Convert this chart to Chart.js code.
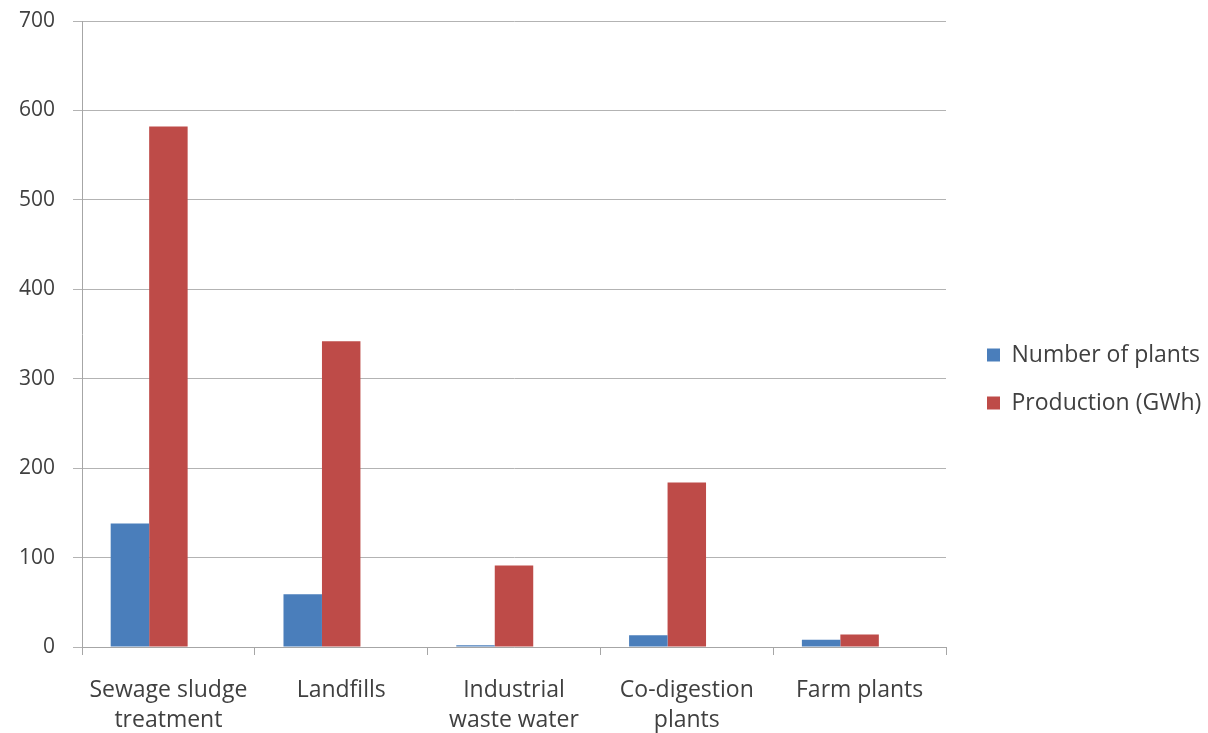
<!DOCTYPE html>
<html>
<head>
<meta charset="utf-8">
<script src="https://cdn.jsdelivr.net/npm/chart.js@4"></script>
<style>
  html, body { margin: 0; padding: 0; background: #fff; }
  #wrap { width: 1208px; height: 733px; }
</style>
</head>
<body>
<div id="wrap"><canvas id="chart"></canvas></div>
<script>
// categories (x axis)
const categories = [
    ['Sewage sludge', 'treatment'],
    'Landfills',
    ['Industrial', 'waste water'],
    ['Co-digestion', 'plants'],
    'Farm plants'
];

// series values
const plantCounts = [138, 59, 2, 13, 8];
const productionGWh = [582, 342, 91, 184, 14];
// the source chart leaves room for a third (empty) series in each group
const emptySeries = [];

// y axis ticks
const yMax = 700;
const yStep = 100;

const FONT = 'Open Sans';
const TEXT = '#404040';

// legend sits in a fixed-width column to the right, shifted to match the reference
const legendPlacer = {
    id: 'legendPlacer',
    afterInit(chart) {
        const legend = chart.legend;
        const origFit = legend.fit;
        legend.fit = function () {
            origFit.call(this);
            this.width = 262;
        };
    },
    afterLayout(chart) {
        const legend = chart.legend;
        const shiftY = 379 - (legend.top + legend.bottom) / 2;
        legend.left += 16;
        legend.right += 16;
        legend.top += shiftY;
        legend.bottom += shiftY;
    }
};

const ctx = document.getElementById('chart').getContext('2d');
new Chart(ctx, {
    type: 'bar',
    data: {
        labels: categories,
        datasets: [{
            label: 'Number of plants',
            data: plantCounts,
            backgroundColor: '#4a7ebb',
            borderWidth: 0
        }, {
            label: 'Production (GWh)',
            data: productionGWh,
            backgroundColor: '#be4b48',
            borderWidth: 0
        }, {
            label: '',
            data: emptySeries,
            backgroundColor: 'rgba(0,0,0,0)',
            borderWidth: 0
        }]
    },
    options: {
        responsive: true,
        maintainAspectRatio: false,
        animation: false,
        layout: { padding: { top: 21, right: 0, left: 0, bottom: 0 } },
        datasets: { bar: { barPercentage: 1, categoryPercentage: 0.668 } },
        plugins: {
            legend: {
                position: 'right',
                labels: {
                    font: { family: FONT, size: 23 },
                    color: TEXT,
                    boxWidth: 13,
                    boxHeight: 13,
                    padding: 25,
                    filter: item => item.text !== ''
                }
            },
            tooltip: { enabled: false }
        },
        scales: {
            x: {
                afterFit(scale) { scale.height = 86; },
                grid: {
                    display: true,
                    drawOnChartArea: false,
                    color: '#a6a6a6',
                    tickLength: 8,
                    offset: true
                },
                border: { color: '#a6a6a6', width: 1 },
                ticks: {
                    font: { family: FONT, size: 23, lineHeight: 1.3 },
                    color: TEXT,
                    maxRotation: 0,
                    autoSkip: false,
                    padding: 21
                }
            },
            y: {
                min: 0,
                max: yMax,
                afterFit(scale) {
                    scale.width = 82;
                    scale.paddingTop = 0;
                    scale.paddingBottom = 0;
                },
                ticks: {
                    stepSize: yStep,
                    font: { family: FONT, size: 21 },
                    color: TEXT,
                    padding: 18
                },
                grid: {
                    color: '#b3b3b3',
                    tickLength: 9
                },
                border: { color: '#a6a6a6', width: 1 }
            }
        }
    },
    plugins: [legendPlacer]
});
</script>
</body>
</html>
